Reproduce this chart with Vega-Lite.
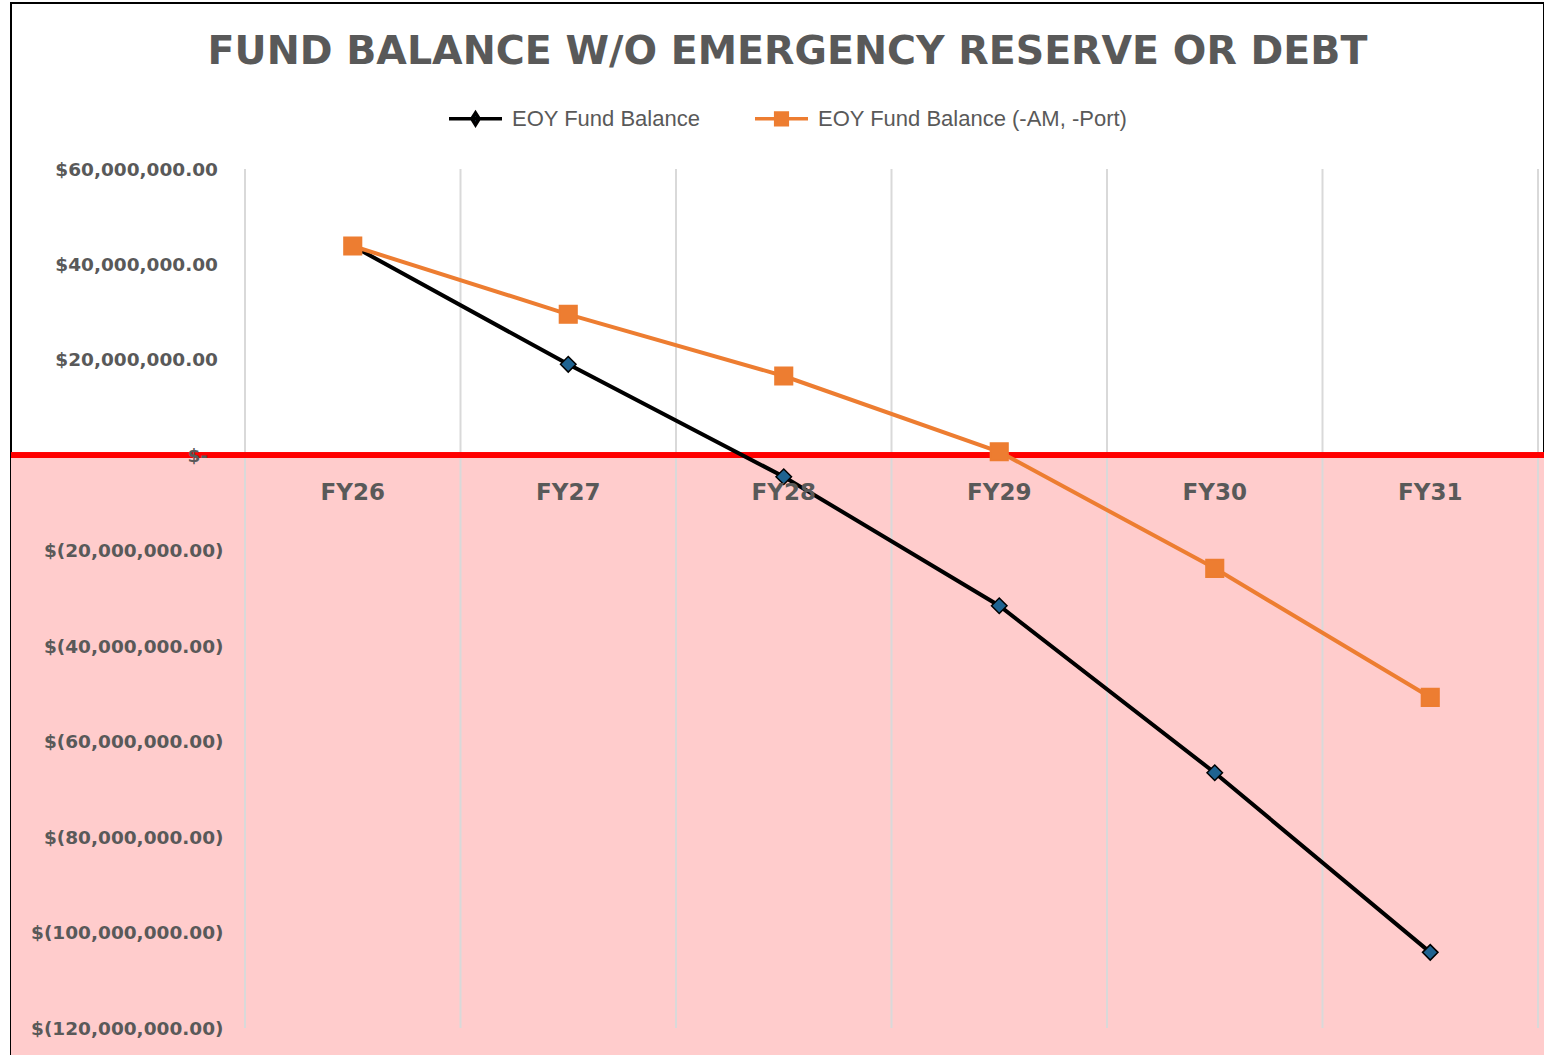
{
  "$schema": "https://vega.github.io/schema/vega-lite/v6.json",
  "width": 1533,
  "height": 1052,
  "autosize": {"type": "none"},
  "padding": {"left": 11, "top": 3, "right": 0, "bottom": 0},
  "background": "#ffffff",
  "config": {
    "view": {"stroke": "#000000", "strokeWidth": 2},
    "font": "DejaVu Sans"
  },
  "title": {
    "text": "FUND BALANCE W/O EMERGENCY RESERVE OR DEBT",
    "font": "DejaVu Sans",
    "fontSize": 39.5,
    "fontWeight": "bold",
    "color": "#595959",
    "anchor": "middle",
    "frame": "group",
    "baseline": "alphabetic",
    "offset": -100,
    "dx": 10
  },
  "data": {
    "values": [
      {"year": "FY26", "series": "EOY Fund Balance", "value": 43860000},
      {"year": "FY27", "series": "EOY Fund Balance", "value": 19070000},
      {"year": "FY28", "series": "EOY Fund Balance", "value": -4480000},
      {"year": "FY29", "series": "EOY Fund Balance", "value": -31520000},
      {"year": "FY30", "series": "EOY Fund Balance", "value": -66510000},
      {"year": "FY31", "series": "EOY Fund Balance", "value": -104150000},
      {"year": "FY26", "series": "EOY Fund Balance (-AM, -Port)", "value": 43860000},
      {"year": "FY27", "series": "EOY Fund Balance (-AM, -Port)", "value": 29550000},
      {"year": "FY28", "series": "EOY Fund Balance (-AM, -Port)", "value": 16620000},
      {"year": "FY29", "series": "EOY Fund Balance (-AM, -Port)", "value": 750000},
      {"year": "FY30", "series": "EOY Fund Balance (-AM, -Port)", "value": -23680000},
      {"year": "FY31", "series": "EOY Fund Balance (-AM, -Port)", "value": -50710000}
    ]
  },
  "layer": [
    {
      "mark": {"type": "rect", "color": "#FFCCCC", "clip": true},
      "encoding": {
        "y": {"datum": 0, "type": "quantitative", "scale": {"domain": [-120000000, 60000000], "range": [1025, 166], "nice": false, "zero": false}},
        "y2": {"datum": -300000000}
      }
    },
    {
      "transform": [{"filter": "datum.series === 'EOY Fund Balance'"}],
      "mark": {"type": "rule", "color": "#D9D9D9", "strokeWidth": 2},
      "encoding": {
        "x": {"field": "year", "type": "nominal", "bandPosition": 0, "sort": ["FY26", "FY27", "FY28", "FY29", "FY30", "FY31"], "scale": {"type": "band", "range": [234, 1527], "paddingInner": 0, "paddingOuter": 0}, "axis": {
          "orient": "bottom", "offset": -574, "zindex": 1, "domain": false, "ticks": false, "tickSize": 0, "grid": false, "labelPadding": 0,
          "labelFont": "DejaVu Sans", "labelFontSize": 23, "labelFontWeight": "bold", "labelColor": "#595959", "labelBaseline": "top", "labelAngle": 0, "title": null
        }},
        "y": {"datum": 60000000, "type": "quantitative"},
        "y2": {"datum": -120000000}
      }
    },
    {
      "mark": {"type": "rule", "color": "#D9D9D9", "strokeWidth": 2},
      "encoding": {
        "x": {"datum": "FY31", "type": "nominal", "bandPosition": 1},
        "y": {"datum": 60000000, "type": "quantitative"},
        "y2": {"datum": -120000000}
      }
    },
    {
      "mark": {"type": "rule", "color": "#FF0000", "strokeWidth": 5},
      "encoding": {
        "y": {"datum": 0, "type": "quantitative", "axis": {
          "orient": "left", "offset": -206.5, "zindex": 1, "domain": false, "ticks": false, "tickSize": 0, "grid": false, "labelLimit": 400,
          "labelPadding": {"condition": [{"test": "datum.value < 0", "value": -5.5}, {"test": "datum.value === 0", "value": 10}], "value": 0},
          "values": [60000000, 40000000, 20000000, 0, -20000000, -40000000, -60000000, -80000000, -100000000, -120000000],
          "labelExpr": "datum.value > 0 ? '$' + format(datum.value, ',.2f') : (datum.value < 0 ? '$(' + format(-datum.value, ',.2f') + ')' : '$-')",
          "labelFont": "DejaVu Sans", "labelFontSize": 18.5, "labelFontWeight": "bold", "labelColor": "#595959", "labelAlign": "right", "labelBaseline": "middle", "title": null
        }}
      }
    },
    {
      "mark": {"type": "line", "strokeWidth": 4},
      "encoding": {
        "x": {"field": "year", "type": "nominal", "sort": ["FY26", "FY27", "FY28", "FY29", "FY30", "FY31"]},
        "y": {"field": "value", "type": "quantitative"},
        "stroke": {"field": "series", "type": "nominal",
          "scale": {"domain": ["EOY Fund Balance", "EOY Fund Balance (-AM, -Port)"], "range": ["#000000", "#ED7D31"]},
          "legend": {
            "orient": "none", "legendX": 436, "legendY": 87, "direction": "horizontal", "title": null,
            "symbolSize": 2809, "symbolStrokeWidth": 3.5, "columnPadding": 47, "labelOffset": 8, "labelLimit": 500,
            "labelFont": "Liberation Sans", "labelFontSize": 22, "labelColor": "#595959",
            "encode": {"symbols": {"update": {
              "shape": {"signal": "datum.value === 'EOY Fund Balance' ? 'M-1,0H1M0,-0.22L0.14,0L0,0.22L-0.14,0Z' : 'M-1,0H1M-0.22,-0.22H0.22V0.22H-0.22Z'"},
              "fill": {"signal": "datum.value === 'EOY Fund Balance' ? '#1F6391' : '#ED7D31'"}
            }}}
          }
        }
      }
    },
    {
      "mark": {"type": "point", "filled": true, "opacity": 1, "strokeWidth": 1.5},
      "encoding": {
        "x": {"field": "year", "type": "nominal", "sort": ["FY26", "FY27", "FY28", "FY29", "FY30", "FY31"]},
        "y": {"field": "value", "type": "quantitative"},
        "fill": {"condition": {"test": "datum.series === 'EOY Fund Balance'", "value": "#1F6391"}, "value": "#ED7D31"},
        "shape": {"condition": {"test": "datum.series === 'EOY Fund Balance'", "value": "diamond"}, "value": "square"},
        "size": {"condition": {"test": "datum.series === 'EOY Fund Balance'", "value": 240}, "value": 310},
        "stroke": {"condition": {"test": "datum.series === 'EOY Fund Balance'", "value": "#000000"}, "value": "#ED7D31"}
      }
    }
  ]
}
